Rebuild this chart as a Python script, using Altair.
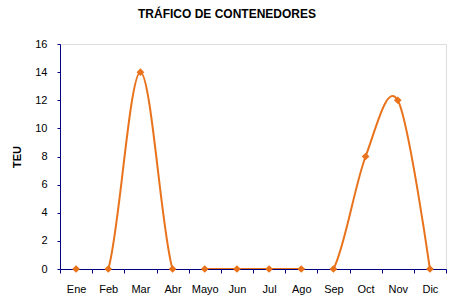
import altair as alt
import pandas as pd

months = ["Ene", "Feb", "Mar", "Abr", "Mayo", "Jun", "Jul", "Ago", "Sep", "Oct", "Nov", "Dic"]
teu = [0, 0, 14, 0, 0, 0, 0, 0, 0, 8, 12, 0]

df = pd.DataFrame({"mes": months, "teu": teu})

ORANGE = "#E8731C"
NAVY = "#000080"

x = alt.X("mes:N", sort=months, title=None,
          scale=alt.Scale(type="band", paddingInner=0, paddingOuter=0),
          axis=alt.Axis(labelAngle=0, tickBand="extent", domainColor=NAVY, tickColor=NAVY,
                        tickSize=4, labelPadding=10, labelFontSize=11, labelColor="black",
                        labelFont="Liberation Sans", grid=False))
y = alt.Y("teu:Q", title="TEU",
          scale=alt.Scale(domain=[0, 16]),
          axis=alt.Axis(values=list(range(0, 17, 2)), domainColor=NAVY, tickColor=NAVY,
                        tickSize=3, labelPadding=10, labelFontSize=11, labelColor="black",
                        labelFont="Liberation Sans", grid=False, titleFont="Liberation Sans",
                        titleFontSize=11, titleFontWeight="bold", titlePadding=12))

base = alt.Chart(df).encode(x=x, y=y)
line = base.mark_line(color=ORANGE, strokeWidth=2, interpolate="cardinal", tension=0, clip=True)
pts = base.mark_point(shape="diamond", filled=True, color=ORANGE, size=60, opacity=1)

chart = (line + pts).properties(
    width=386, height=225,
    title=alt.TitleParams("TRÁFICO DE CONTENEDORES", font="Liberation Sans", fontSize=12,
                          fontWeight="bold", color="black", anchor="middle", offset=17, dx=-26),
    autosize=alt.AutoSizeParams(type="none"),
    padding={"left": 60, "top": 44, "right": 7, "bottom": 36},
).configure_view(stroke=None).configure(background="white")

chart.save("out.html", embed_options={"renderer": "svg", "actions": False})
